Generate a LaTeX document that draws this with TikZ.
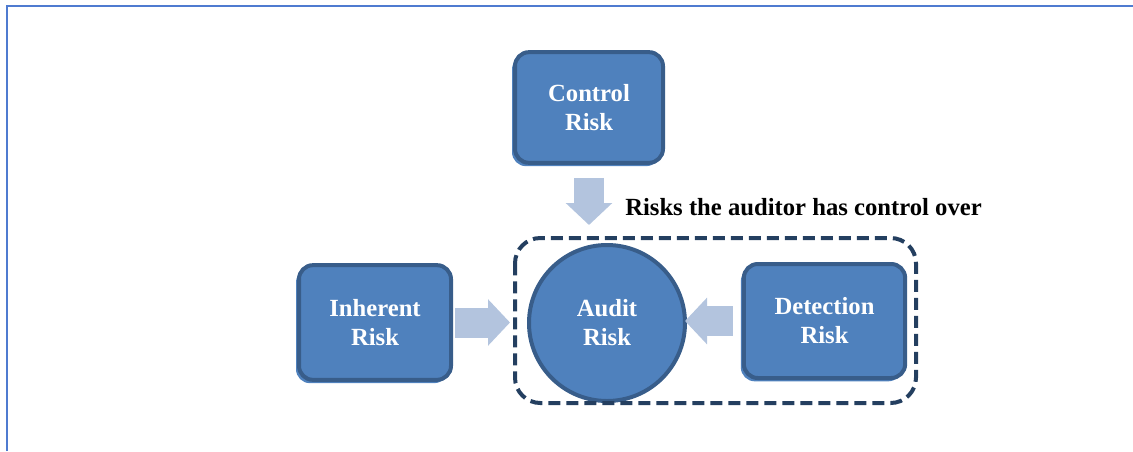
\documentclass[tikz,border=0pt]{standalone}
\usepackage{fontspec}
\setmainfont{Liberation Serif}
\usetikzlibrary{arrows.meta,shadows}
\definecolor{rkfill}{HTML}{4F81BD}
\definecolor{rkline}{HTML}{385D8A}
\definecolor{rkarrow}{HTML}{B3C4DE}
\definecolor{rkdash}{HTML}{243F60}
\definecolor{rkframe}{HTML}{4F7BD0}

\begin{document}
\begin{tikzpicture}[x=0.75pt,y=-0.75pt,
  rktext/.style={font=\bfseries\fontsize{18.5}{21.75}\selectfont,align=center},
  riskbox/.style={rktext,draw=rkline,fill=rkfill,line width=3pt,rounded corners=10.5pt,text=white,
    general shadow={fill=rkfill,shadow xshift=-2.25pt,shadow yshift=-2.5pt}},
  riskcirc/.style={rktext,circle,draw=rkline,fill=rkfill,line width=3pt,text=white,minimum size=117pt},
  blockarr/.style={rkarrow,line width=22.5pt,-{Triangle[length=16.5pt,width=34pt]}}]
  \useasboundingbox (0,0) rectangle (1133,451);
  \draw[rkframe,line width=2pt] (7,451) |- (1133,6);
  % risk boxes
  \node[riskbox,minimum width=111pt,minimum height=83pt] (ctl) at (589,107.5) {Control\\Risk};
  \node[riskbox,minimum width=114pt,minimum height=86pt] (inh) at (375,322.5) {Inherent\\Risk};
  \node[riskbox,minimum width=121pt,minimum height=85.5pt] (det) at (824.5,321) {Detection\\Risk};
  \node[riskcirc] (aud) at (607,323) {Audit\\Risk};
  % what the auditor controls
  \draw[rkdash,line width=3pt,dash pattern=on 9pt off 4.5pt,rounded corners=19pt] (515,238) rectangle (916,403);
  \node[rktext,anchor=west,inner sep=0pt] (lbl) at (625,207) {Risks the auditor has control over};
  % arrows
  \draw[blockarr,shorten <=9.75pt,shorten >=13.5pt] (ctl.south) -- (ctl.south |- aud.north);
  \draw[blockarr,shorten <=1.5pt,shorten >=12.75pt] (inh.east) -- (inh.east -| aud.west);
  \draw[blockarr,shorten <=6.75pt,shorten >=-1.5pt] (det.west) -- (det.west -| aud.east);
\end{tikzpicture}
\end{document}
